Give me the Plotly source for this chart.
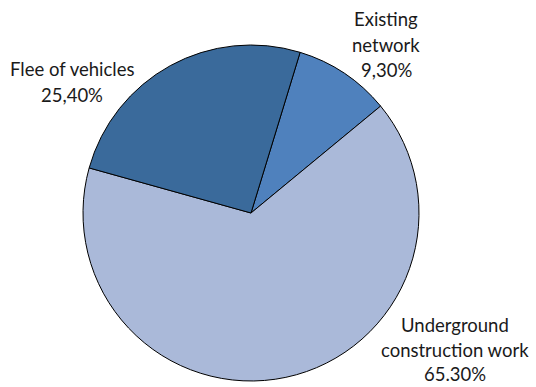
import plotly.graph_objects as go

# Cost shares, listed clockwise from the top of the pie
categories = ["Existing network", "Underground construction work", "Flee of vehicles"]
values = [9.3, 65.3, 25.4]
value_labels = ["9,30%", "65.30%", "25,40%"]
label_lines = [["Existing", "network"], ["Underground", "construction work"], ["Flee of vehicles"]]
colors = ["#4F81BD", "#AAB9D9", "#3A6A9B"]

W, H = 536, 387

fig = go.Figure(go.Pie(
    labels=categories,
    values=values,
    sort=False,
    direction="clockwise",
    rotation=17,
    textinfo="none",
    hoverinfo="label+percent",
    marker=dict(colors=colors, line=dict(color="#000000", width=1)),
    domain=dict(x=[83 / W, 419 / W], y=[(H - 381) / H, (H - 45) / H]),
    showlegend=False,
))

# Outside labels: (x centre, y of first line, line step) in pixels
label_anchor = [(386, 19, 25.5), (455, 325, 24.5), (72, 69, 25.5)]
font = dict(family="Lato", size=18.5, color="#1a1a1a")
for lines, val, (cx, cy, step) in zip(label_lines, value_labels, label_anchor):
    for i, txt in enumerate(lines + [val]):
        fig.add_annotation(
            x=cx / W, y=1 - (cy + step * i) / H,
            xref="paper", yref="paper",
            text=txt, showarrow=False,
            xanchor="center", yanchor="middle",
            borderpad=0,
            font=font,
        )

fig.update_layout(
    width=W, height=H,
    margin=dict(l=0, r=0, t=0, b=0),
    paper_bgcolor="white",
    plot_bgcolor="white",
)

fig.write_html("out.html")
